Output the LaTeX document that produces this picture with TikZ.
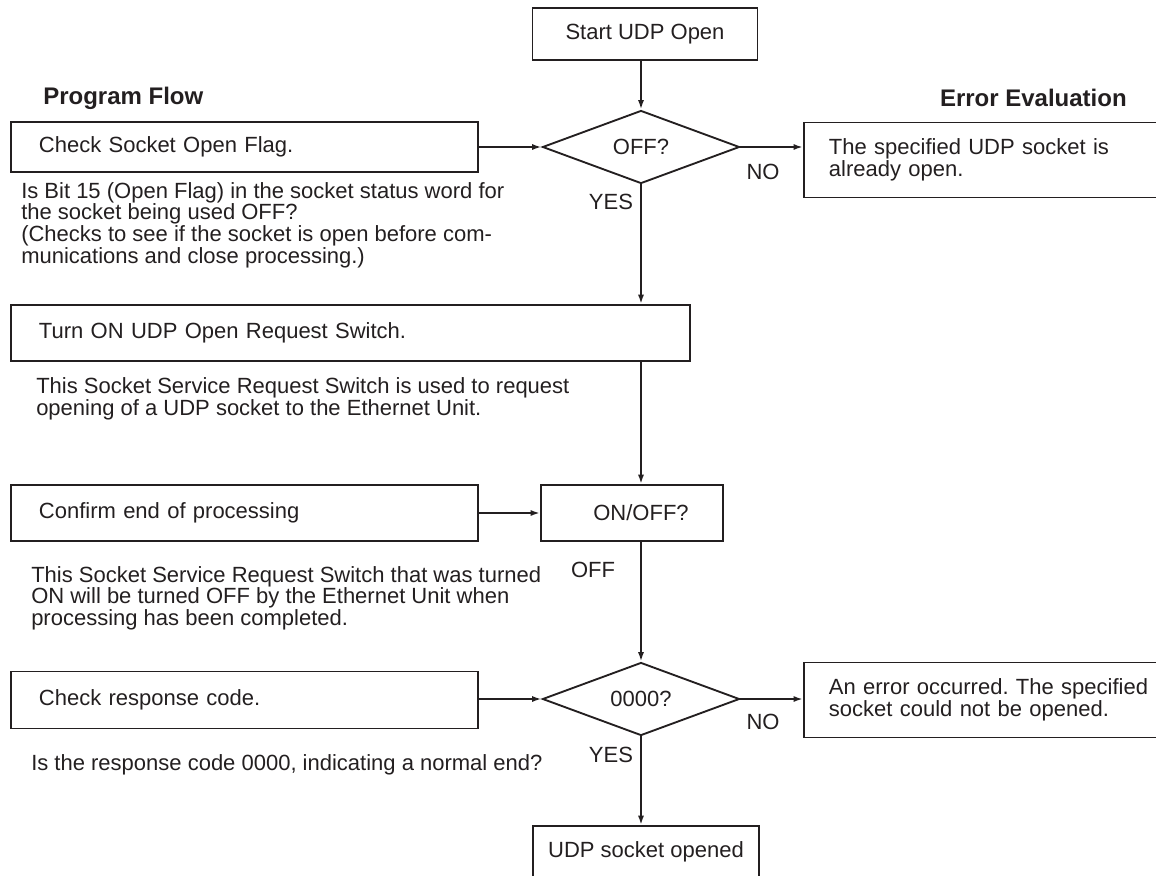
\documentclass[tikz,border=0pt]{standalone}
\usepackage{fontspec}
\setmainfont{Liberation Sans}
\usetikzlibrary{shapes.geometric,arrows.meta}
\definecolor{ink}{RGB}{35,31,32}
\frenchspacing

\begin{document}
\begin{tikzpicture}[x=0.75pt,y=0.75pt,yscale=-1,xscale=1,
	every node/.style={text=ink,font=\fontsize{16.5}{16.2}\selectfont},
	stepbox/.style={draw=ink,line width=1.4pt,rectangle,inner ysep=0pt,inner xsep=21pt,align=left,anchor=west},
	midbox/.style={draw=ink,line width=1.4pt,rectangle,inner sep=0pt,minimum width=168.75pt,minimum height=39pt},
	errbox/.style={draw=ink,line width=1.4pt,rectangle,inner ysep=0pt,inner xsep=18.75pt,text width=247.5pt,align=left,anchor=west,minimum height=56.25pt},
	query/.style={draw=ink,line width=1.4pt,diamond,aspect=2.7,inner sep=0pt,minimum width=147.75pt,minimum height=54.75pt},
	note/.style={align=left,anchor=west,inner sep=0pt},
	heading/.style={font=\fontsize{18}{20}\selectfont\bfseries,inner sep=0pt},
	flow/.style={draw=ink,line width=1.4pt,-{Latex[length=7pt,width=4.5pt]}}]
		
		\useasboundingbox (0,0) rectangle (1156,875);
		\clip (0,0) rectangle (1156,875);
		
		% Text box: Spaltenköpfe
		\node [heading,anchor=west] (pflow) at (43,98) {Program Flow};
		\node [heading,anchor=east] (eeval) at (1127,98) {Error Evaluation};
		
		% Shape: Start
		\node [midbox] (start) at (645,34) {Start UDP Open};
		
		% Shape: Abfrage OFF?
		\node [query] (off) at (641,147) {OFF?};
		\node [stepbox,text width=308.25pt,minimum height=37.5pt] (chkflag) at (10,147) {Check Socket Open Flag.};
		\node [errbox] (err1) at (803,160) {The specified UDP socket is\\already open.};
		\node (no1) at (763,172) {NO};
		\node (yes1) at (611,202) {YES};
		
		% Text box
		\node [note] (desc1) at (21,225) {Is Bit 15 (Open Flag) in the socket status word for\\the socket being used OFF?\\(Checks to see if the socket is open before com-\\munications and close processing.)};
		
		% Shape: Request Switch
		\node [stepbox,text width=467.25pt,minimum height=42pt] (reqsw) at (10,333) {Turn ON UDP Open Request Switch.};
		\node [note] (desc2) at (36,399) {This Socket Service Request Switch is used to request\\opening of a UDP socket to the Ethernet Unit.};
		
		% Shape: Ende der Verarbeitung
		\node [stepbox,text width=308.25pt,minimum height=42pt] (confirm) at (10,513) {Confirm end of processing};
		\node [draw=ink,line width=1.4pt,inner sep=0pt,minimum width=136.5pt,minimum height=42pt] (onoff) at (632,513) {\hspace*{13.5pt}ON/OFF?};
		\node (lbloff) at (593,570) {OFF};
		\node [note] (desc3) at (31,598) {This Socket Service Request Switch that was turned\\ON will be turned OFF by the Ethernet Unit when\\processing has been completed.};
		
		% Shape: Abfrage 0000?
		\node [query] (code) at (641,699) {0000?};
		\node [stepbox,text width=308.25pt,minimum height=42.75pt] (chkcode) at (10,700) {Check response code.};
		\node [errbox] (err2) at (803,700) {An error occurred. The specified\\socket could not be opened.};
		\node (no2) at (763,722) {NO};
		\node (yes2) at (611,755) {YES};
		\node [note] (desc4) at (31,765) {Is the response code 0000, indicating a normal end?};
		
		% Shape: Ende
		\node [midbox,minimum width=169.5pt] (done) at (646,852) {UDP socket opened};
		
		% Pfeile
		\draw [flow] (off.north |- start.south) -- (off.north);
		\draw [flow] (chkflag.east) -- (off.west);
		\draw [flow] (off.east) -- (off.east -| err1.west);
		\draw [flow] (off.south) -- (off.south |- reqsw.north);
		\draw [flow] (off.south |- reqsw.south) -- (off.south |- onoff.north);
		\draw [flow] (confirm.east) -- (onoff.west);
		\draw [flow] (off.south |- onoff.south) -- (code.north);
		\draw [flow] (chkcode.east |- code.west) -- (code.west);
		\draw [flow] (code.east) -- (code.east -| err2.west);
		\draw [flow] (code.south) -- (code.south |- done.north);
		
	\end{tikzpicture}
\end{document}
